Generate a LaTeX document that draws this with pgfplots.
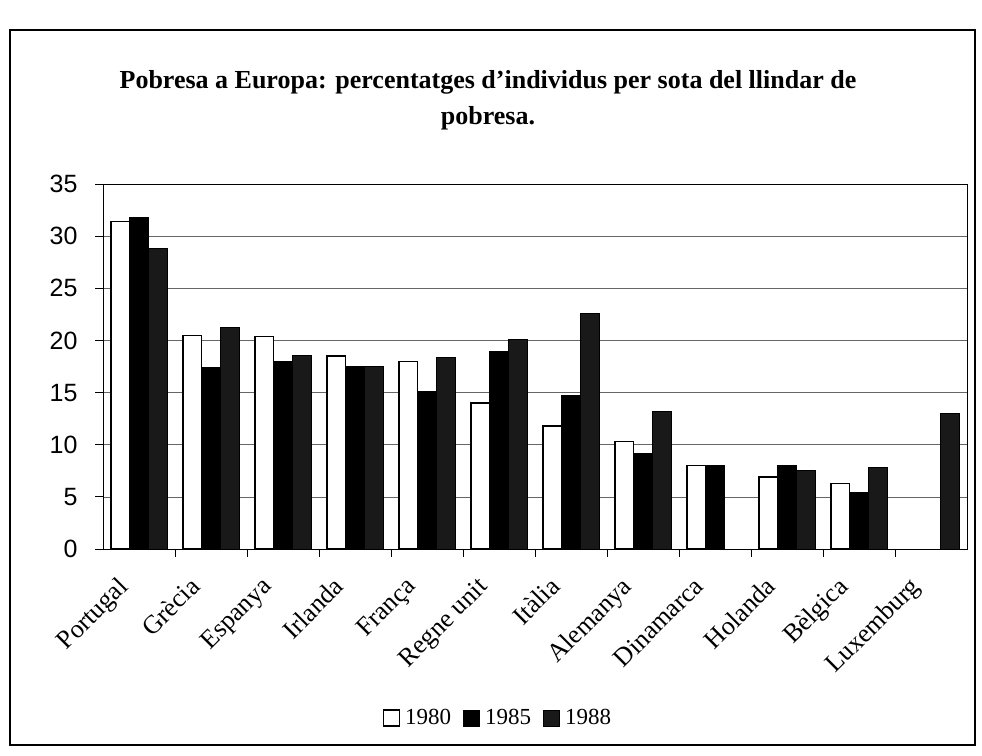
\documentclass[border=0pt]{standalone}
\usepackage{fontspec}
\setmainfont{Liberation Serif}
\newfontfamily\arial{Liberation Sans}
\usepackage{pgfplots}
\pgfplotsset{compat=1.18}
\begin{document}
\begin{tikzpicture}
\fill[white] (0pt,0pt) rectangle (982pt,-755pt);
\useasboundingbox (0pt,0pt) rectangle (982pt,-755pt);
\draw[line width=1.8pt] (10pt,-30pt) rectangle (975pt,-745pt);
\node[align=center, font=\bfseries\fontsize{26}{36}\selectfont] at (488pt,-100pt)
  {Pobresa a Europa: percentatges d'individus per sota del llindar de\\pobresa.};
\begin{axis}[
  at={(103pt,-549pt)}, anchor=south west,
  scale only axis, width=864pt, height=365pt,
  xmin=-0.5, xmax=11.5, ymin=0, ymax=35,
  ytick={0,5,...,35},
  xtick={0,...,11},
  xticklabels={Portugal,Grècia,Espanya,Irlanda,França,Regne unit,Itàlia,Alemanya,Dinamarca,Holanda,Bèlgica,Luxemburg},
  minor xtick={0.5,1.5,...,10.5},
  major x tick style={draw=none},
  minor x tick style={draw=black, line width=0.8pt},
  ytick style={draw=black, line width=0.8pt},
  tick align=outside,
  major tick length=8pt, minor tick length=8pt,
  xtick pos=bottom, ytick pos=left,
  ymajorgrids, grid style={black!60, line width=0.7pt},
  axis line style={black, line width=1pt},
  /pgf/number format/assume math mode=true,
  yticklabel style={font=\arial\fontsize{25}{25}\selectfont, xshift=-14pt},
  xticklabel style={font=\fontsize{26}{26}\selectfont, rotate=45, anchor=north east, inner sep=0pt, xshift=-29pt, yshift=3pt},
  legend image code/.code={\draw[#1,/tikz/.cd] (0pt,-8pt) rectangle (16pt,8pt);},
  legend style={at={(0.457,-0.463)}, anchor=center, draw=none, fill=none,
    font=\fontsize{23}{23}\selectfont, legend columns=3,
    /tikz/every odd column/.append style={column sep=3pt},
    /tikz/every even column/.append style={column sep=10pt}},
  legend cell align=left,
]
\addplot[ybar, bar width=0.26, bar shift=-0.26, fill=white, draw=black, line width=1.3pt]
  coordinates {(0,31.4) (1,20.5) (2,20.4) (3,18.5) (4,18.0) (5,14.0) (6,11.8) (7,10.3) (8,8.0) (9,6.9) (10,6.3)};
\addplot[ybar, bar width=0.26, bar shift=0, fill=black, draw=black, line width=1pt]
  coordinates {(0,31.8) (1,17.4) (2,18.0) (3,17.5) (4,15.1) (5,18.9) (6,14.7) (7,9.2) (8,8.0) (9,8.0) (10,5.4)};
\addplot[ybar, bar width=0.26, bar shift=0.26, fill=black!90, draw=black, line width=1pt]
  coordinates {(0,28.8) (1,21.2) (2,18.6) (3,17.5) (4,18.4) (5,20.1) (6,22.6) (7,13.2) (9,7.5) (10,7.8) (11,13.0)};
\legend{1980,1985,1988}
\end{axis}
\end{tikzpicture}
\end{document}
